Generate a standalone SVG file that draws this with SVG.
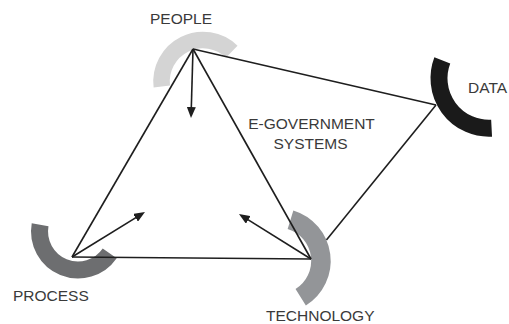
<svg xmlns="http://www.w3.org/2000/svg" width="509" height="324" viewBox="0 0 509 324">
  <style>
    .lbl { font-family: "Liberation Sans", Arial, sans-serif; font-size: 15.5px; fill: #3a3a3a; }
    .arc { fill: none; stroke-linecap: butt; }
    .ln { stroke: #1e1e1e; stroke-width: 1.6; fill: none; }
  </style>
  <defs>
    <marker id="ah" markerUnits="userSpaceOnUse" markerWidth="11" markerHeight="9" refX="8" refY="4.5" orient="auto">
      <path d="M0,0 L11,4.5 L0,9 Z" fill="#1e1e1e"/>
    </marker>
  </defs>
  <rect width="509" height="324" fill="#ffffff"/>

  <g id="connector-under">
    <line class="ln" x1="326.4" y1="240" x2="436" y2="105"/>
  </g>

  <g id="node-people">
    <path class="arc" d="M161.8,86.6 A41.5,41.5 0 0 1 231.8,51.65" stroke="#d4d4d4" stroke-width="16.5"/>
    <text class="lbl" x="150" y="23.5">PEOPLE</text>
  </g>
  <g id="node-data">
    <path class="arc" d="M491.6,128.2 A50,50 0 0 1 442.3,60.4" stroke="#1a1a1a" stroke-width="17"/>
    <text class="lbl" x="468" y="93">DATA</text>
  </g>
  <g id="node-process">
    <path class="arc" d="M109.7,253.3 A38.5,38.5 0 0 1 40.1,224.8" stroke="#6d6e70" stroke-width="17"/>
    <text class="lbl" x="13" y="301">PROCESS</text>
  </g>
  <g id="node-technology">
    <path class="arc" d="M290.5,219.7 A43,43 0 0 1 300.7,297.3" stroke="#939598" stroke-width="19.5"/>
    <text class="lbl" x="266" y="320.5">TECHNOLOGY</text>
  </g>
  <g id="node-egov">
    <text class="lbl" x="311.5" y="129" text-anchor="middle">E-GOVERNMENT</text>
    <text class="lbl" x="310.5" y="149" text-anchor="middle">SYSTEMS</text>
  </g>

  <g id="connectors">
    <line class="ln" x1="193" y1="49" x2="436" y2="105"/>
    <line class="ln" x1="193" y1="49" x2="72" y2="257"/>
    <line class="ln" x1="193" y1="49" x2="311" y2="259"/>
    <line class="ln" x1="72" y1="257" x2="311" y2="259"/>
    <line class="ln" x1="193" y1="49" x2="191.1" y2="115" marker-end="url(#ah)"/>
    <line class="ln" x1="72" y1="257" x2="142.4" y2="213.6" marker-end="url(#ah)"/>
    <line class="ln" x1="311" y1="259" x2="241.5" y2="215.6" marker-end="url(#ah)"/>
  </g>
</svg>
